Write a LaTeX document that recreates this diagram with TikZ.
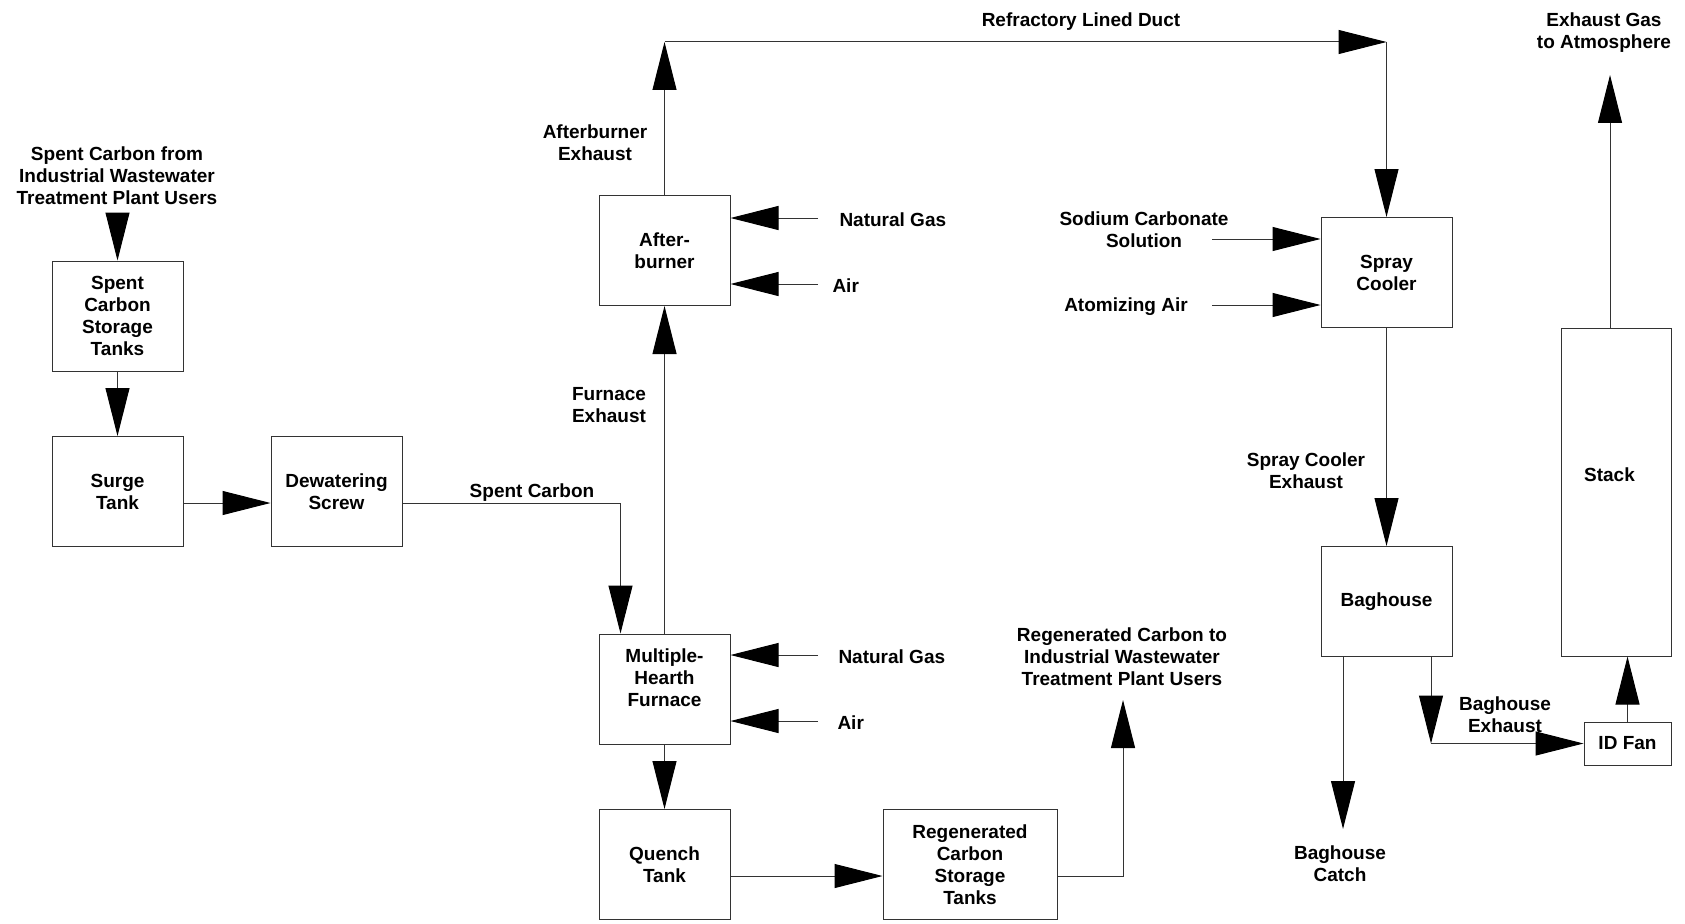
\documentclass[tikz,border=0pt]{standalone}
\usepackage{fontspec}
\setmainfont{Liberation Sans}
\usetikzlibrary{arrows.meta}
\begin{document}
\begin{tikzpicture}[x=1pt,y=-1pt,
  font=\fontsize{19}{22}\selectfont\bfseries,
  line width=1pt,
  box/.style={draw=black!80, fill=white, align=center, inner sep=0pt, minimum width=131pt, minimum height=110pt},
  lab/.style={align=center, inner sep=0pt},
  arr/.style={draw=black!80, -{Triangle[length=48pt,width=24pt,color=black]}}
]
\useasboundingbox (0,0) rectangle (1685,923);

% boxes
\node[box] (sct) at (117.5,316) {Spent\\Carbon\\Storage\\Tanks};
\node[box] (surge) at (117.5,491.5) {Surge\\Tank};
\node[box] (dew) at (336.5,491.5) {Dewatering\\Screw};
\node[box] (ab) at (664.5,250.5) {After-\\burner};
\node[box] (mhf) at (664.5,689) {Multiple-\\Hearth\\Furnace\\\mbox{}};
\node[box] (qt) at (664.5,864.5) {Quench\\Tank};
\node[box, minimum width=174pt] (rc) at (970,864.5) {Regenerated\\Carbon\\Storage\\Tanks};
\node[box] (sc) at (1386.5,272.5) {Spray\\Cooler};
\node[box] (bh) at (1386.5,601.5) {Baghouse};
\node[box, minimum width=110pt, minimum height=328pt] (st) at (1616,492) {\raisebox{11pt}[0pt][0pt]{Stack\hspace{13pt}}};
\node[box, minimum width=87pt, minimum height=43pt] (idf) at (1627.5,743.5) {ID Fan};

% labels
\node[lab] (lscin) at (117,175.5) {Spent Carbon from\\Industrial Wastewater\\Treatment Plant Users};
\node[lab] (lspent) at (532,492.5) {Spent Carbon};
\node[lab] (lfex) at (609,405) {Furnace\\Exhaust};
\node[lab] (labex) at (595,142.5) {Afterburner\\Exhaust};
\node[lab] (lduct) at (1081,21.5) {Refractory Lined Duct};
\node[lab, anchor=west] (labng) at (839,219.5) {Natural Gas};
\node[lab, anchor=west] (labair) at (832,285.5) {Air};
\node[lab, anchor=west] (lmng) at (838,656.5) {Natural Gas};
\node[lab, anchor=west] (lmair) at (837,722.5) {Air};
\node[lab] (lrc) at (1122,657) {Regenerated Carbon to\\Industrial Wastewater\\Treatment Plant Users};
\node[lab] (lna) at (1144,229.5) {Sodium Carbonate\\Solution};
\node[lab] (laa) at (1126,307) {Atomizing Air};
\node[lab] (lscx) at (1306,471) {Spray Cooler\\Exhaust};
\node[lab] (lbhx) at (1505,715) {Baghouse\\Exhaust};
\node[lab] (lbhc) at (1340,863.5) {Baghouse\\Catch};
\node[lab] (lexh) at (1604,32.5) {Exhaust Gas\\to Atmosphere};

% coordinates
\coordinate (scin) at (117.5,214);
\coordinate (duct1) at (664.5,42);
\coordinate (duct2) at (1386.5,42);
\coordinate (abng) at (818,218);
\coordinate (abair) at (818,284);
\coordinate (mhfng) at (818,655);
\coordinate (mhfair) at (818,721);
\coordinate (rcup) at (1123,700);
\coordinate (nain) at (1212,239);
\coordinate (aain) at (1212,305);
\coordinate (bhc) at (1431,743.5);
\coordinate (catch) at (1343,829);
\coordinate (exh) at (1610,75);

% connectors
\draw[arr] (scin) -- (sct.north);
\draw[arr] (sct.south) -- (surge.north);
\draw[arr] ([yshift=-11.5pt]surge.east) -- ([yshift=-11.5pt]dew.west);
\draw[arr] ([yshift=-11.5pt]dew.east) -| ([xshift=-44pt]mhf.north);
\draw[arr] (mhf.north) -- (ab.south);
\draw[arr] (ab.north) -- (duct1);
\draw[arr] (duct1) -- (duct2);
\draw[arr] (duct2) -- (sc.north);
\draw[arr] (abng) -- (ab.east |- abng);
\draw[arr] (abair) -- (ab.east |- abair);
\draw[arr] (mhfng) -- (mhf.east |- mhfng);
\draw[arr] (mhfair) -- (mhf.east |- mhfair);
\draw[arr] (mhf.south) -- (qt.north);
\draw[arr] ([yshift=-11.5pt]qt.east) -- ([yshift=-11.5pt]rc.west);
\draw[arr] ([yshift=-11.5pt]rc.east) -| (rcup);
\draw[arr] (nain) -- (sc.west |- nain);
\draw[arr] (aain) -- (sc.west |- aain);
\draw[arr] (sc.south) -- (bh.north);
\draw[arr] (bh.south -| bhc) -- (bhc);
\draw[arr] (bhc) -- (idf.west);
\draw[arr] (bh.south -| catch) -- (catch);
\draw[arr] (idf.north) -- (idf.north |- st.south);
\draw[arr] (st.north -| exh) -- (exh);
\end{tikzpicture}
\end{document}
